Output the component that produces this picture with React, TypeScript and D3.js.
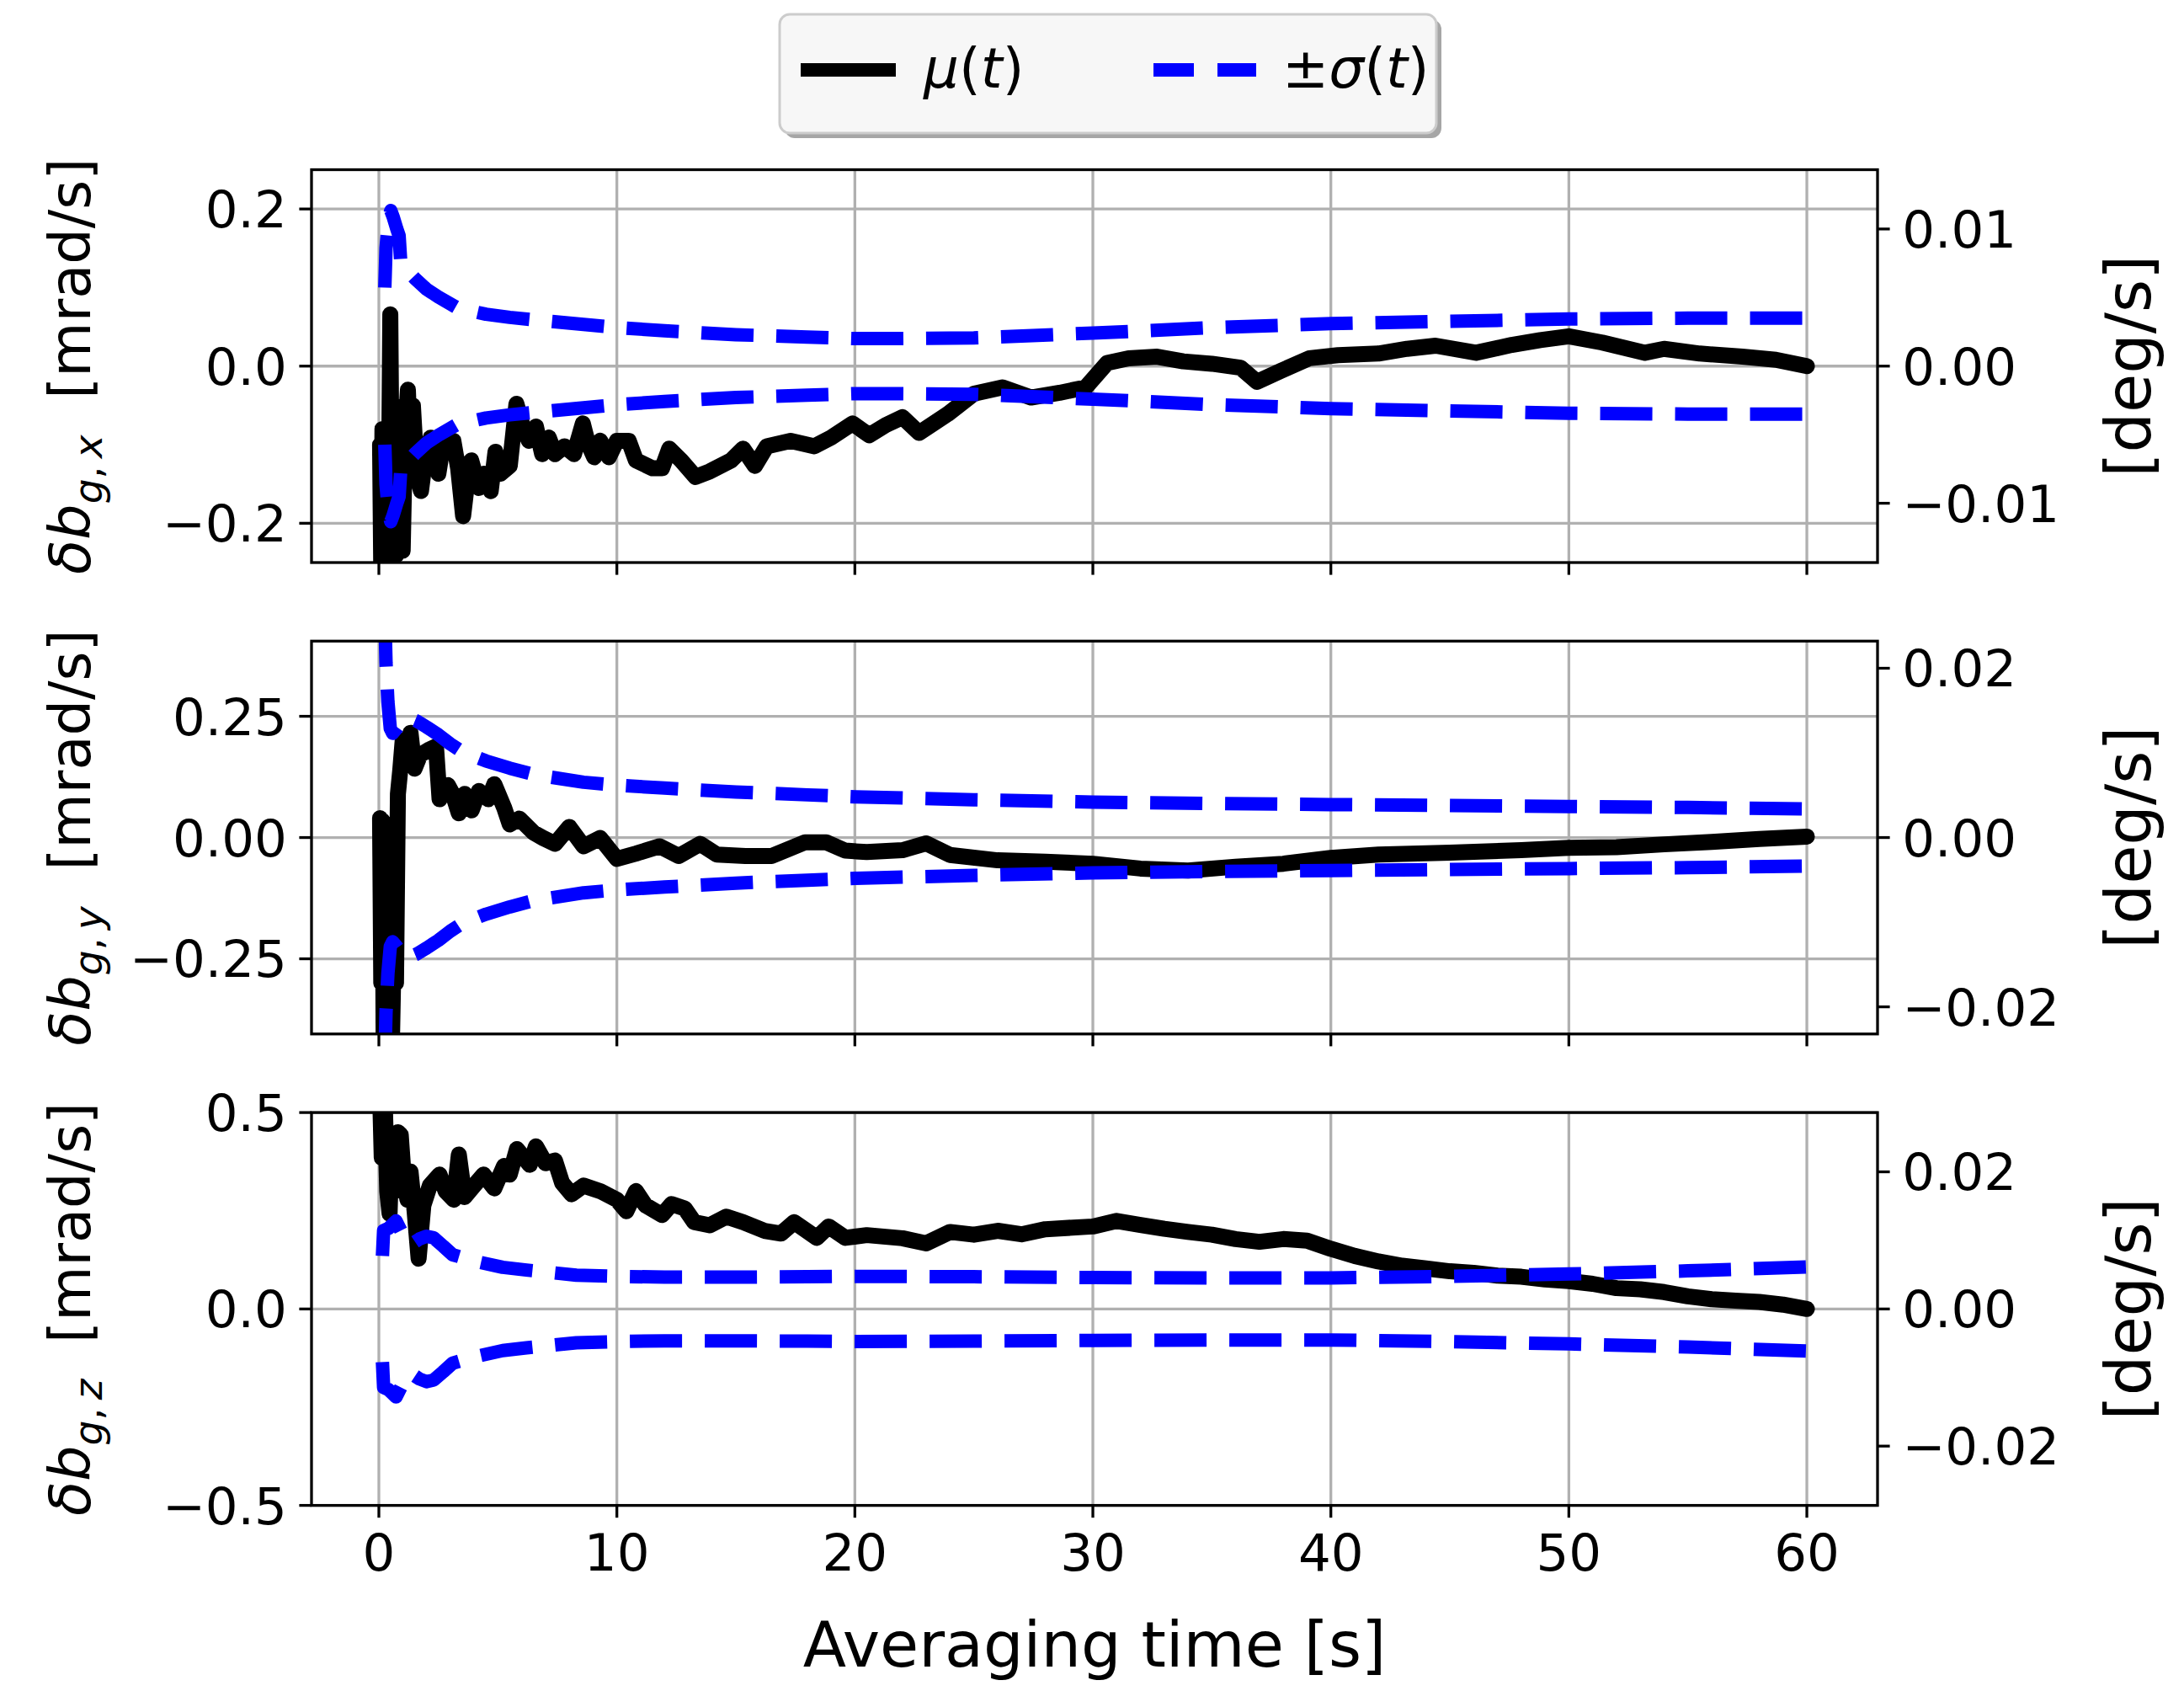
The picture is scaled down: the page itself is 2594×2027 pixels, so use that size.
import React from "react";
import * as d3 from "d3";

// ---- data (time in s, values in mrad/s) ----
const muXTime = [0.05, 0.1, 0.15, 0.2, 0.3, 0.4, 0.48, 0.55, 0.65, 0.75, 0.85, 1.0, 1.1, 1.22, 1.33, 1.43, 1.6, 1.77, 1.97, 2.18, 2.5, 2.72, 3.13, 3.33, 3.54, 3.7, 3.88, 4.2, 4.42, 4.7, 4.9, 5.1, 5.5, 5.78, 6.05, 6.3, 6.6, 6.86, 7.14, 7.4, 7.8, 8.2, 8.57, 8.78, 9.05, 9.3, 9.66, 10.0, 10.5, 10.8, 11.5, 11.9, 12.2, 12.7, 13.3, 13.9, 14.8, 15.3, 15.8, 16.3, 17.3, 18.3, 19.0, 19.9, 20.6, 21.3, 22.0, 22.7, 23.9, 25.0, 26.2, 27.4, 28.6, 29.7, 30.6, 31.5, 32.7, 33.8, 35.0, 36.2, 36.9, 37.9, 39.1, 40.3, 42.0, 43.2, 44.4, 46.1, 47.6, 48.8, 50.0, 51.4, 53.2, 54.0, 55.5, 57.3, 58.7, 60.0];
const muX = [-0.1, -0.26, -0.08, -0.27, -0.12, -0.24, 0.066, -0.2, -0.05, -0.24, -0.08, -0.235, -0.09, -0.03, -0.12, -0.05, -0.14, -0.159, -0.112, -0.091, -0.137, -0.095, -0.095, -0.13, -0.191, -0.15, -0.12, -0.155, -0.137, -0.159, -0.109, -0.137, -0.127, -0.048, -0.077, -0.095, -0.077, -0.112, -0.091, -0.112, -0.102, -0.112, -0.073, -0.098, -0.116, -0.095, -0.116, -0.095, -0.095, -0.12, -0.13, -0.13, -0.105, -0.12, -0.141, -0.134, -0.12, -0.105, -0.127, -0.102, -0.095, -0.102, -0.091, -0.073, -0.088, -0.075, -0.065, -0.085, -0.061, -0.035, -0.027, -0.04, -0.034, -0.027, 0.004, 0.01, 0.012, 0.006, 0.003, -0.002, -0.02, -0.006, 0.01, 0.014, 0.016, 0.022, 0.026, 0.017, 0.027, 0.033, 0.038, 0.03, 0.017, 0.022, 0.016, 0.012, 0.008, 0.0];
const sigXTime = [0.25, 0.3, 0.4, 0.5, 0.6, 0.75, 0.85, 0.92, 1.0, 1.5, 2.0, 2.5, 3.3, 4.5, 5.5, 6.5, 8.6, 10, 12, 15, 18, 20, 22, 25, 30, 35, 40, 45, 50, 55, 60];
const sigX = [0.1, 0.15, 0.185, 0.198, 0.19, 0.175, 0.166, 0.132, 0.128, 0.112, 0.098, 0.088, 0.074, 0.066, 0.062, 0.059, 0.053, 0.049, 0.045, 0.04, 0.037, 0.035, 0.035, 0.036, 0.042, 0.049, 0.054, 0.057, 0.06, 0.061, 0.061];

const muYTime = [0.05, 0.1, 0.15, 0.2, 0.28, 0.35, 0.45, 0.55, 0.65, 0.72, 0.8, 0.9, 1.0, 1.15, 1.33, 1.5, 1.73, 2.14, 2.4, 2.55, 2.9, 3.1, 3.36, 3.6, 3.9, 4.2, 4.6, 4.85, 5.26, 5.5, 5.9, 6.5, 6.9, 7.4, 8.0, 8.6, 9.3, 10.0, 10.8, 11.8, 12.6, 13.5, 14.2, 15.4, 16.5, 17.9, 18.8, 19.6, 20.5, 22, 23, 24, 26, 28, 30, 32, 34, 36, 38, 40, 42, 45, 48, 50, 52, 54, 56, 58, 60];
const muY = [0.04, -0.3, 0.035, -0.42, -0.1, -0.42, -0.2, -0.42, -0.16, -0.3, 0.09, 0.14, 0.2, 0.17, 0.216, 0.142, 0.17, 0.182, 0.188, 0.079, 0.108, 0.09, 0.05, 0.09, 0.056, 0.096, 0.079, 0.11, 0.062, 0.027, 0.039, 0.01, -0.001, -0.013, 0.022, -0.018, -0.001, -0.044, -0.033, -0.018, -0.038, -0.013, -0.035, -0.038, -0.038, -0.01, -0.01, -0.027, -0.03, -0.026, -0.012, -0.036, -0.047, -0.05, -0.054, -0.064, -0.068, -0.06, -0.054, -0.042, -0.035, -0.031, -0.026, -0.021, -0.02, -0.014, -0.009, -0.003, 0.002];
const sigYTime = [0.25, 0.3, 0.38, 0.48, 0.58, 0.75, 1.0, 1.2, 1.6, 2.0, 2.5, 3.0, 3.5, 4.5, 5.5, 6.5, 8.6, 10, 12, 15, 18, 20, 25, 30, 35, 40, 45, 50, 55, 60];
const sigY = [0.46, 0.36, 0.28, 0.225, 0.215, 0.225, 0.242, 0.248, 0.24, 0.228, 0.212, 0.193, 0.177, 0.158, 0.143, 0.13, 0.114, 0.108, 0.102, 0.094, 0.088, 0.084, 0.078, 0.073, 0.07, 0.068, 0.066, 0.064, 0.062, 0.059];

const muZTime = [0.05, 0.12, 0.25, 0.35, 0.45, 0.55, 0.65, 0.8, 0.92, 1.05, 1.2, 1.33, 1.5, 1.67, 1.87, 2.14, 2.55, 2.8, 3.15, 3.36, 3.6, 4.0, 4.4, 4.85, 5.26, 5.5, 5.8, 6.34, 6.6, 7.0, 7.4, 7.7, 8.1, 8.6, 9.3, 10.0, 10.4, 10.8, 11.2, 11.9, 12.3, 12.85, 13.25, 13.9, 14.6, 15.3, 16.2, 16.9, 17.45, 18.4, 18.9, 19.6, 20.5, 22, 23, 24, 25, 26, 27, 28, 30, 31, 32, 33, 34, 35, 36, 37, 38, 39, 40, 41, 42, 43, 44, 45, 46, 47, 48, 49, 50, 51, 52, 53, 54, 55, 56, 57, 58, 59, 60];
const muZ = [0.55, 0.385, 0.52, 0.3, 0.242, 0.44, 0.3, 0.45, 0.443, 0.33, 0.278, 0.35, 0.25, 0.128, 0.264, 0.314, 0.342, 0.3, 0.278, 0.393, 0.285, 0.314, 0.342, 0.307, 0.364, 0.342, 0.407, 0.367, 0.414, 0.371, 0.378, 0.321, 0.292, 0.314, 0.3, 0.278, 0.249, 0.3, 0.264, 0.239, 0.267, 0.256, 0.221, 0.213, 0.235, 0.221, 0.199, 0.192, 0.221, 0.181, 0.21, 0.181, 0.188, 0.18, 0.167, 0.196, 0.189, 0.199, 0.19, 0.203, 0.21, 0.224, 0.214, 0.204, 0.196, 0.189, 0.178, 0.171, 0.178, 0.174, 0.153, 0.135, 0.121, 0.11, 0.103, 0.096, 0.092, 0.085, 0.082, 0.075, 0.071, 0.064, 0.053, 0.05, 0.043, 0.032, 0.025, 0.021, 0.018, 0.011, 0.0];
const sigZTime = [0.15, 0.2, 0.4, 0.72, 1.0, 1.33, 1.7, 2.0, 2.3, 2.7, 3.1, 4.0, 5.2, 6.2, 8.3, 10, 12, 15, 18, 20, 25, 30, 35, 40, 45, 50, 55, 60];
const sigZ = [0.135, 0.2, 0.205, 0.224, 0.19, 0.163, 0.178, 0.185, 0.181, 0.16, 0.138, 0.122, 0.106, 0.099, 0.086, 0.083, 0.081, 0.081, 0.082, 0.083, 0.082, 0.08, 0.079, 0.079, 0.083, 0.089, 0.097, 0.107];

const xTicks = [0, 10, 20, 30, 40, 50, 60];
const axisNames = ["x", "y", "z"];

// ---- layout ----
const W = 2594;
const H = 2027;
const left = 370;
const right = 2230;
const panelH = 466.5;
const panelTops = [201.5, 201.5 + 1.2 * panelH, 201.5 + 2.4 * panelH];
const tickLen = 14.6;
const lw = 3.3;
const tickFont = 61;
const FONT = "DejaVu Sans";
const toDeg = (0.001 * 180) / Math.PI;

const panels = [
  { top: panelTops[0], dom: [-0.25, 0.25], lTicks: [-0.2, 0, 0.2], lFmt: ".1f", rTicks: [-0.01, 0, 0.01], muT: muXTime, mu: muX, sT: sigXTime, s: sigX },
  { top: panelTops[1], dom: [-0.405, 0.405], lTicks: [-0.25, 0, 0.25], lFmt: ".2f", rTicks: [-0.02, 0, 0.02], muT: muYTime, mu: muY, sT: sigYTime, s: sigY },
  { top: panelTops[2], dom: [-0.5, 0.5], lTicks: [-0.5, 0, 0.5], lFmt: ".1f", rTicks: [-0.02, 0, 0.02], muT: muZTime, mu: muZ, sT: sigZTime, s: sigZ },
];

const x = d3.scaleLinear().domain([-2.83, 62.97]).range([left, right]);

const Panel = ({ p, i }) => {
  const bottom = p.top + panelH;
  const y = d3.scaleLinear().domain(p.dom).range([bottom, p.top]);
  const yr = d3.scaleLinear().domain([p.dom[0] * toDeg, p.dom[1] * toDeg]).range([bottom, p.top]);
  const line = d3.line<[number, number]>().x((d) => x(d[0])).y((d) => y(d[1]));
  const muPts = d3.zip(p.muT, p.mu) as [number, number][];
  const upPts = d3.zip(p.sT, p.s) as [number, number][];
  const loPts = p.sT.map((t, k) => [t, -p.s[k]]) as [number, number][];
  const lf = d3.format(p.lFmt);
  const rf = d3.format(".2f");
  const cy = p.top + panelH / 2;
  return (
    <g>
      <clipPath id={`clip${i}`}>
        <rect x={left} y={p.top} width={right - left} height={panelH} />
      </clipPath>
      {/* grid */}
      {xTicks.map((t) => (
        <line key={"gx" + t} x1={x(t)} x2={x(t)} y1={p.top} y2={bottom} stroke="#b0b0b0" strokeWidth={lw} />
      ))}
      {p.lTicks.map((v) => (
        <line key={"gy" + v} x1={left} x2={right} y1={y(v)} y2={y(v)} stroke="#b0b0b0" strokeWidth={lw} />
      ))}
      {/* data */}
      <g clipPath={`url(#clip${i})`}>
        <path d={line(muPts)} fill="none" stroke="#000" strokeWidth={19} strokeLinejoin="round" strokeLinecap="round" />
        <path d={line(upPts)} fill="none" stroke="#0000ff" strokeWidth={16} strokeDasharray="62 27" strokeLinejoin="round" />
        <path d={line(loPts)} fill="none" stroke="#0000ff" strokeWidth={16} strokeDasharray="62 27" strokeLinejoin="round" />
      </g>
      {/* frame */}
      <rect x={left} y={p.top} width={right - left} height={panelH} fill="none" stroke="#000" strokeWidth={lw} />
      {/* left ticks */}
      {p.lTicks.map((v) => (
        <g key={"lt" + v}>
          <line x1={left - tickLen} x2={left} y1={y(v)} y2={y(v)} stroke="#000" strokeWidth={lw} />
          <text x={left - 2 * tickLen} y={y(v)} dy="0.36em" textAnchor="end" fontSize={tickFont} fontFamily={FONT}>
            {lf(v)}
          </text>
        </g>
      ))}
      {/* right ticks */}
      {p.rTicks.map((v) => (
        <g key={"rt" + v}>
          <line x1={right} x2={right + tickLen} y1={yr(v)} y2={yr(v)} stroke="#000" strokeWidth={lw} />
          <text x={right + 2 * tickLen} y={yr(v)} dy="0.36em" textAnchor="start" fontSize={tickFont} fontFamily={FONT}>
            {rf(v)}
          </text>
        </g>
      ))}
      {/* bottom ticks */}
      {xTicks.map((t) => (
        <line key={"bt" + t} x1={x(t)} x2={x(t)} y1={bottom} y2={bottom + tickLen} stroke="#000" strokeWidth={lw} />
      ))}
      {i === 2 &&
        xTicks.map((t) => (
          <text key={"bl" + t} x={x(t)} y={bottom + 77} textAnchor="middle" fontSize={tickFont} fontFamily={FONT}>
            {t}
          </text>
        ))}
      {/* left label */}
      <text transform={`translate(107,${cy}) rotate(-90)`} textAnchor="middle" fontSize={67} fontFamily={FONT}>
        <tspan fontStyle="italic">δb</tspan>
        <tspan fontSize={47} dy={14}>
          <tspan fontStyle="italic">g</tspan>
          {",\u2009"}
          <tspan fontStyle="italic">{axisNames[i]}</tspan>
        </tspan>
        <tspan dy={-14}>{"\u00a0\u00a0[mrad/s]"}</tspan>
      </text>
      {/* right label */}
      <text transform={`translate(2554,${cy}) rotate(-90)`} textAnchor="middle" fontSize={75} fontFamily={FONT}>
        [deg/s]
      </text>
    </g>
  );
};

const App = () => (
  <div style={{ position: "absolute", left: 0, top: 0 }}>
    <svg width={W} height={H} viewBox={`0 0 ${W} ${H}`} style={{ display: "block", background: "#fff" }}>
      <rect width={W} height={H} fill="#fff" />
      {panels.map((p, i) => (
        <Panel key={i} p={p} i={i} />
      ))}
      <text x={(left + right) / 2} y={1979} textAnchor="middle" fontSize={75} fontFamily={FONT}>
        Averaging time [s]
      </text>
      {/* legend */}
      <rect x={932} y={23} width={780} height={141} rx={12} fill="#a6a6a6" />
      <rect x={926} y={17} width={780} height={141} rx={12} fill="#f7f7f7" stroke="#cccccc" strokeWidth={3} />
      <line x1={951} x2={1064} y1={83} y2={83} stroke="#000" strokeWidth={16} />
      <text x={1097} y={104} fontSize={66} fontFamily={FONT}>
        <tspan fontStyle="italic">μ</tspan>(<tspan fontStyle="italic">t</tspan>)
      </text>
      <line x1={1370} x2={1492} y1={83} y2={83} stroke="#0000ff" strokeWidth={16} strokeDasharray="48 28" />
      <text x={1523} y={104} fontSize={66} fontFamily={FONT}>
        ±<tspan fontStyle="italic">σ</tspan>(<tspan fontStyle="italic">t</tspan>)
      </text>
    </svg>
  </div>
);

export default App;
